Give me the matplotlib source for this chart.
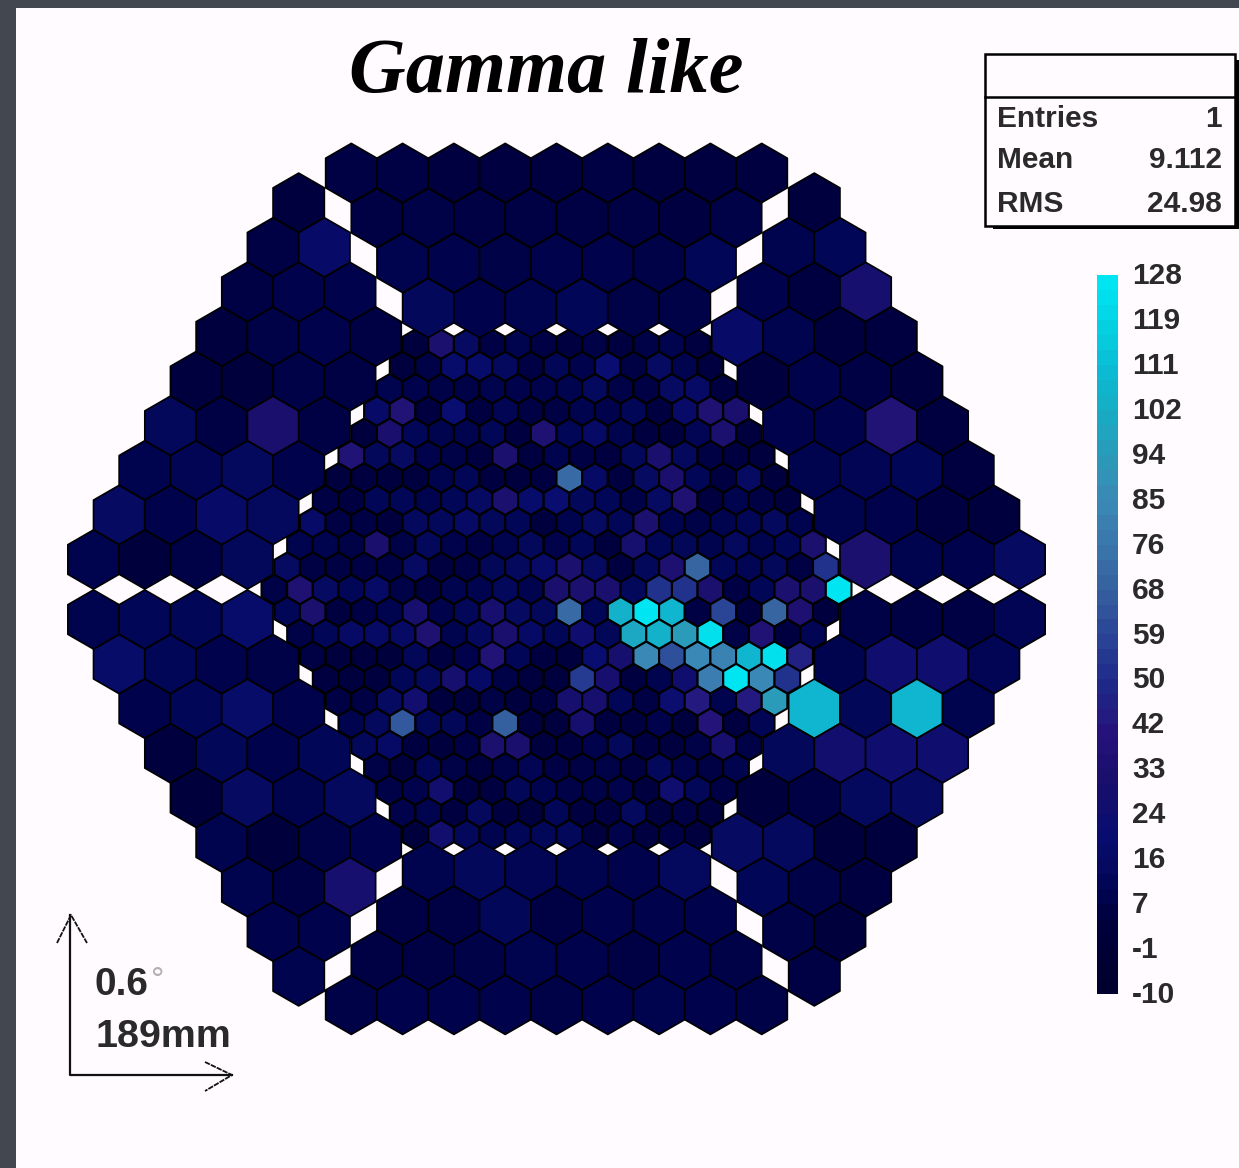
import matplotlib
matplotlib.use('Agg')
import matplotlib.pyplot as plt
import numpy as np
from matplotlib.collections import PolyCollection
from matplotlib.colors import LinearSegmentedColormap, Normalize
from matplotlib.patches import Rectangle

# small pixels, row by row from the top of the camera
inner_rows = [
    [3, 32, 14, 5, 8, 5, 4, 6, 4, 6, 8, 4],
    [3, 6, 18, 18, 13, 5, 10, 7, 20, 5, 14, 8, 4],
    [8, 7, 6, 6, 8, 7, 7, 8, 13, 6, 5, 14, 15, 4],
    [16, 36, 4, 20, 4, 9, 5, 5, 8, 7, 10, 4, 16, 34, 30],
    [3, 30, 10, 8, 8, 10, 4, 34, 10, 15, 8, 4, 3, 9, 32, 3],
    [36, 12, 14, 7, 6, 4, 32, 4, 8, 5, 4, 12, 30, 13, 5, 4, 3],
    [3, 4, 3, 3, 8, 10, 4, 3, 4, 72, 15, 4, 14, 30, 10, 4, 14, 3],
    [5, 4, 10, 10, 8, 10, 14, 32, 18, 20, 12, 10, 6, 14, 34, 4, 8, 5, 3],
    [16, 5, 5, 3, 13, 12, 15, 12, 10, 3, 8, 14, 10, 32, 8, 6, 8, 10, 13, 8],
    [8, 8, 6, 30, 6, 12, 7, 5, 8, 12, 7, 10, 3, 28, 10, 11, 8, 13, 8, 10, 32],
    [14, 5, 5, 5, 5, 14, 4, 5, 11, 13, 16, 32, 14, 4, 12, 33, 70, 10, 9, 12, 5, 52],
    [6, 34, 14, 10, 15, 6, 4, 8, 8, 12, 8, 30, 32, 30, 12, 52, 52, 32, 5, 10, 32, 32, 128],
    [10, 32, 4, 5, 8, 28, 7, 11, 28, 14, 12, 72, 10, 105, 128, 108, 5, 58, 4, 70, 33, 3],
    [6, 10, 15, 15, 15, 34, 8, 13, 30, 15, 10, 24, 11, 100, 105, 95, 125, 6, 35, 4, 9],
    [5, 3, 3, 2, 11, 4, 7, 36, 10, 4, 3, 20, 28, 85, 62, 85, 82, 108, 125, 45],
    [4, 3, 3, 10, 13, 28, 15, 6, 3, 3, 55, 28, 4, 8, 24, 80, 128, 85, 52],
    [5, 5, 14, 26, 3, 3, 6, 3, 4, 28, 28, 10, 5, 22, 42, 8, 42, 95],
    [8, 13, 65, 11, 11, 5, 68, 4, 3, 28, 4, 4, 7, 3, 38, 4, 9],
    [12, 15, 4, 3, 5, 32, 30, 3, 4, 7, 12, 4, 3, 6, 28, 6],
    [6, 3, 10, 6, 3, 6, 9, 5, 5, 6, 4, 12, 7, 5, 8],
    [6, 7, 26, 4, 4, 11, 8, 6, 6, 7, 3, 24, 11, 5],
    [7, 8, 4, 13, 4, 3, 10, 4, 4, 13, 3, 5, 3],
    [2, 26, 12, 8, 10, 11, 12, 3, 7, 4, 5, 3],
]

# large pixels, six sectors. Side sectors go from the middle row outwards
top_sector = [
    [5, 5, 4, 4, 4, 5, 4, 4, 4],
    [5, 6, 5, 5, 5, 5, 4, 6],
    [8, 7, 6, 7, 7, 6, 10],
    [12, 7, 8, 10, 6, 6],
]
bottom_sector = [
    [8, 12, 9, 8, 7, 13],
    [5, 5, 11, 5, 7, 7, 7],
    [5, 5, 6, 8, 7, 5, 7, 6],
    [6, 7, 7, 7, 6, 7, 8, 7, 6],
]
upper_left = [
    [8, 2, 6, 12], [14, 7, 16, 13], [8, 9, 13, 7], [12, 5, 30, 5], [3, 2, 6, 5],
    [3, 6, 7, 5], [5, 7, 7], [5, 16], [3],
]
upper_right = [
    [32, 8, 7, 14], [8, 7, 4, 3], [8, 9, 10, 4], [7, 7, 36, 4], [3, 7, 5, 3],
    [16, 8, 3, 4], [7, 4, 28], [8, 10], [3],
]
lower_left = [
    [8, 10, 10, 18], [17, 10, 7, 6], [7, 10, 17, 7], [3, 11, 7, 10], [2, 14, 8, 13],
    [8, 2, 6, 7], [8, 5, 28], [7, 7], [8],
]
lower_right = [
    [6, 5, 5, 9], [8, 24, 24, 9], [108, 11, 108, 8], [12, 26, 24, 24], [2, 5, 13, 14],
    [14, 13, 2, 3], [10, 6, 4], [6, 2], [5],
]

scale_labels = ['128', '119', '111', '102', '94', '85', '76', '68', '59', '50',
                '42', '33', '24', '16', '7', '-1', '-10']
stats_names = ['Entries', 'Mean', 'RMS']
stats_values = ['1', '9.112', '24.98']

scale_min = -10
scale_max = 128
cmap_values = [-10, 3, 8, 14, 20, 30, 40, 50, 59, 68, 76, 85, 94, 102, 111, 119, 128]
cmap_colors = ['#00002e', '#00003e', '#000450', '#060a62', '#080d70', '#1a0f6c', '#26147c',
               '#1e2c8a', '#2b4697', '#35609f', '#3b75ac', '#3a88b5', '#2c9ab9', '#18abc4',
               '#0cbcd4', '#05d0e2', '#00e5f2']

# camera layout in image pixels
cx, cy = 556.5, 589.5
small_pitch = 25.65
small_row = 22.3
big_pitch = 51.3
big_row = 44.6
big_gap = 30.0
side_start = 93.5
small_lw = 1.5
big_lw = 1.2

bar_left, bar_right, bar_top, bar_bottom = 1097, 1118, 275, 994


def hexagon(x, y, pitch):
    r = pitch / np.sqrt(3)
    angles = np.radians(np.arange(30, 390, 60))
    return np.column_stack([x + r * np.cos(angles), y + r * np.sin(angles)])


fig = plt.figure(figsize=(12.39, 11.68), dpi=100, facecolor='#43474f')
ax = fig.add_axes([0, 0, 1, 1])
ax.axis('off')
ax.add_patch(Rectangle((16, 8), 1223, 1160, facecolor='#fffbff', edgecolor='none', zorder=0))

cells = []
values = []
widths = []

# inner pixels
for i, row in enumerate(inner_rows):
    y = cy + (i - 11) * small_row
    x0 = cx - (len(row) - 1) / 2 * small_pitch
    for j, v in enumerate(row):
        cells.append(hexagon(x0 + j * small_pitch, y, small_pitch))
        values.append(v)
        widths.append(small_lw)

# top and bottom outer sectors
for i, row in enumerate(top_sector):
    y = cy - 416.5 + i * 45.0
    x0 = cx - (len(row) - 1) / 2 * big_pitch
    for j, v in enumerate(row):
        cells.append(hexagon(x0 + j * big_pitch, y, big_pitch))
        values.append(v)
        widths.append(big_lw)
for i, row in enumerate(bottom_sector):
    y = cy + 281.5 + i * big_row
    x0 = cx - (len(row) - 1) / 2 * big_pitch
    for j, v in enumerate(row):
        cells.append(hexagon(x0 + j * big_pitch, y, big_pitch))
        values.append(v)
        widths.append(big_lw)

# side sectors
for rows, up, left in [(upper_left, True, True), (upper_right, True, False),
                       (lower_left, False, True), (lower_right, False, False)]:
    for i, row in enumerate(rows):
        off = big_gap + i * big_row
        y = cy - off if up else cy + off
        edge = side_start + i * small_pitch
        if left:
            xs = [edge + j * big_pitch for j in range(len(row))]
        else:
            xs = [2 * cx - edge - (len(row) - 1 - j) * big_pitch for j in range(len(row))]
        for x, v in zip(xs, row):
            cells.append(hexagon(x, y, big_pitch))
            values.append(v)
            widths.append(big_lw)

cmap = LinearSegmentedColormap.from_list(
    'camera', [((v - scale_min) / (scale_max - scale_min), c) for v, c in zip(cmap_values, cmap_colors)])
norm = Normalize(scale_min, scale_max)

pc = PolyCollection(cells, array=np.array(values, dtype=float), cmap=cmap, norm=norm,
                    edgecolors='black', linewidths=widths, zorder=2)
ax.add_collection(pc)

# colour scale
grad = np.linspace(scale_max, scale_min, 48)[:, None]
ax.imshow(grad, cmap=cmap, norm=norm, extent=[bar_left, bar_right, bar_bottom, bar_top],
          aspect='auto', interpolation='nearest', zorder=2)

label_ys = np.linspace(273, 992, len(scale_labels))
for lab, y in zip(scale_labels, label_ys):
    ax.text(1132, y + 11, lab, fontsize=21.5, family='Liberation Sans', weight='bold',
            color='#2a2a2a', va='baseline', ha='left', zorder=3)

# stats box
ax.add_patch(Rectangle((993, 60), 246, 169, facecolor='black', edgecolor='none', zorder=3))
ax.add_patch(Rectangle((985, 54), 250, 172, facecolor='#fffbff', edgecolor='black', linewidth=1.8, zorder=4))
ax.plot([985, 1235], [97, 97], color='black', lw=1.8, zorder=5)
for name, val, y in zip(stats_names, stats_values, [127, 168, 212]):
    ax.text(997, y, name, fontsize=21.5, family='Liberation Sans', weight='bold',
            color='#2a2a2a', va='baseline', ha='left', zorder=5)
    ax.text(1222, y, val, fontsize=21.5, family='Liberation Sans', weight='bold',
            color='#2a2a2a', va='baseline', ha='right', zorder=5)

# title
ax.text(546, 92, 'Gamma like', fontsize=56.5, family='Liberation Serif', style='italic',
        weight='bold', color='black', ha='center', va='baseline', zorder=3)

# scale arrows
ax.plot([70, 70, 232], [915, 1075, 1075], color='#111111', lw=1.6, zorder=3)
ax.plot([57, 71, 87], [943, 915, 943], color='#111111', lw=1.3, ls=(0, (3, 0.6)), zorder=3)
ax.plot([205, 232, 205], [1062, 1075, 1091], color='#111111', lw=1.3, ls=(0, (3, 0.6)), zorder=3)
ax.text(95, 995, '0.6', fontsize=28, family='Liberation Sans', weight='bold', color='#2a2a2a',
        va='baseline', ha='left', zorder=3)
ax.text(151, 990, '°', fontsize=24, family='Liberation Sans', color='#b0b0b0',
        va='baseline', ha='left', zorder=3)
ax.text(96, 1047, '189mm', fontsize=28.4, family='Liberation Sans', weight='bold', color='#2a2a2a',
        va='baseline', ha='left', zorder=3)

ax.set_xlim(0, 1239)
ax.set_ylim(1168, 0)
fig.savefig('out.png', dpi=100, facecolor=fig.get_facecolor())
